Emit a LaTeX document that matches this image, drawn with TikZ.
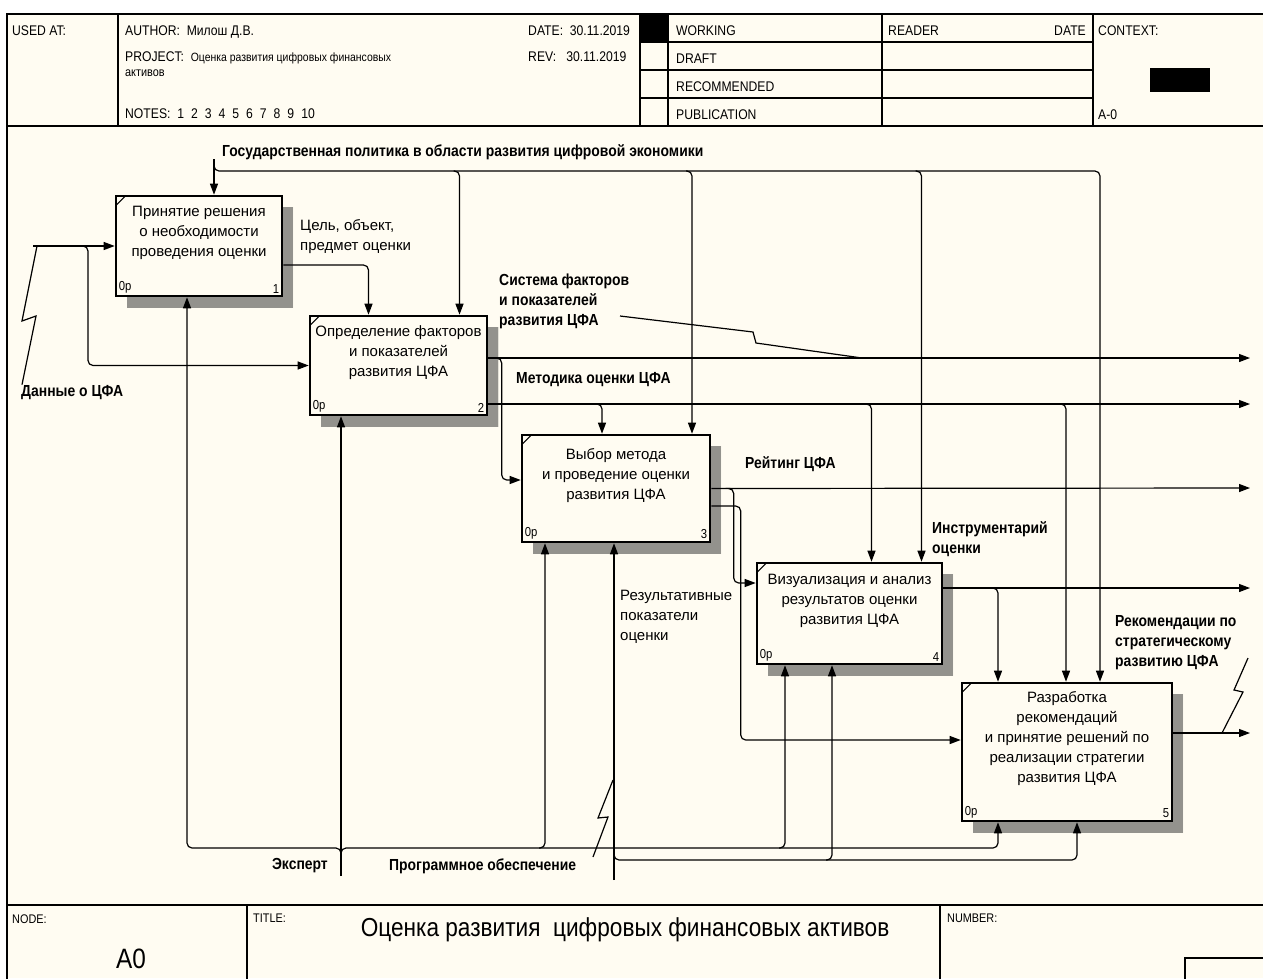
\documentclass[tikz,border=0pt]{standalone}
\usepackage{fontspec}
\setmainfont{Liberation Sans}
\newfontfamily\narrowfont[FakeStretch=0.87]{Liberation Sans}
\usepackage{tikz}
\usetikzlibrary{arrows.meta,positioning,calc,shadows,patterns.meta}
\usepackage{xcolor}

\definecolor{paper}{HTML}{FFFCF2}

\tikzset{
    >={Triangle[length=11pt,width=8pt]},
    fn/.style={draw, line width=2.6pt, fill=paper, inner sep=0pt,
        drop shadow={shadow xshift=11pt, shadow yshift=-11pt, opacity=1,
            pattern={Dots[distance=2pt, radius=0.85pt]}, pattern color=black!85}},
    fntext/.style={align=center, inner sep=0pt, font=\fontsize{15}{20}\selectfont},
    num/.style={inner sep=4pt, font=\narrowfont\fontsize{13}{13}\selectfont},
    lbl/.style={align=left, inner sep=0pt, font=\narrowfont\bfseries\fontsize{16}{20}\selectfont},
    txt/.style={align=left, inner sep=0pt, font=\fontsize{15}{20}\selectfont},
    hdr/.style={inner sep=0pt, anchor=base west, font=\narrowfont\fontsize{14}{16}\selectfont},
    small/.style={hdr, font=\narrowfont\fontsize{12.5}{14}\selectfont},
    arc/.style={line width=1.2pt, rounded corners=5pt},
    form/.style={line width=1.2pt},
}

\begin{document}
\begin{tikzpicture}[x=1pt, y=-1pt]
    \useasboundingbox (0,0) rectangle (1263,978);
    \clip (0,0) rectangle (1263,978);
    \fill[white] (0,0) rectangle (1263,978);
    \fill[paper] (7,14) rectangle (1263,978);

    % Form frame
    \draw[line width=2pt] (7,14) rectangle (1280,995);
    \draw[line width=2pt] (7,126) -- (1280,126);
    \draw[line width=2pt] (7,905) -- (1280,905);
    \foreach \x in {118,640,668,882,1093} \draw[form] (\x,14) -- (\x,126);
    \foreach \y in {42,70,98} \draw[form] (640,\y) -- (1093,\y);
    \draw[form] (247,905) -- (247,995);
    \draw[form] (940,905) -- (940,995);
    \draw[form] (1185,958) rectangle (1280,995);
    \fill (640,14) rectangle (668,42);
    \fill (1150,68) rectangle (1210,92);

    % Header
    \node[hdr] (usedat) at (12,35) {USED AT:};
    \node[hdr] (author) at (125,35) {AUTHOR:\ \ Милош Д.В.};
    \node[hdr] (project) at (125,61) {PROJECT:\ \ {\fontsize{12}{14}\selectfont Оценка развития цифровых финансовых}};
    \node[small] (project2) at (125,76) {активов};
    \node[hdr] (notes) at (125,118) {NOTES:\ \ 1\enspace2\enspace3\enspace4\enspace5\enspace6\enspace7\enspace8\enspace9\enspace10};
    \node[hdr] (date) at (528,35) {DATE:\ \ 30.11.2019};
    \node[hdr] (rev) at (528,61) {REV:\ \ \ 30.11.2019};
    \node[hdr] (working) at (676,35) {WORKING};
    \node[hdr] (draft) at (676,63) {DRAFT};
    \node[hdr] (recommended) at (676,91) {RECOMMENDED};
    \node[hdr] (publication) at (676,119) {PUBLICATION};
    \node[hdr] (reader) at (888,35) {READER};
    \node[hdr, anchor=base east] (rdate) at (1086,35) {DATE};
    \node[hdr] (context) at (1098,35) {CONTEXT:};
    \node[hdr] (ctxnode) at (1098,119) {A-0};

    % Footer
    \node[small] (nodelbl) at (12,923) {NODE:};
    \node[small] (titlelbl) at (253,922) {TITLE:};
    \node[small] (numlbl) at (947,922) {NUMBER:};
    \node[anchor=base, inner sep=0pt, font=\narrowfont\fontsize{28}{30}\selectfont] (nodeid) at (131,968) {A0};
    \node[anchor=base, inner sep=0pt, font=\narrowfont\fontsize{26}{30}\selectfont] (title) at (625,936) {Оценка развития\ \ цифровых финансовых активов};

    % Function boxes
    \node[fn, minimum width=166pt, minimum height=100pt] (b1) at (199,246) {};
    \node[fn, minimum width=177pt, minimum height=99pt] (b2) at (398.5,365.5) {};
    \node[fn, minimum width=188pt, minimum height=107pt] (b3) at (616,488.5) {};
    \node[fn, minimum width=185pt, minimum height=101pt] (b4) at (849.5,613.5) {};
    \node[fn, minimum width=210pt, minimum height=138pt] (b5) at (1067,752) {};

    \node[fntext, anchor=north] (b1t) at ($(b1.north)+(0,11)$) {Принятие решения\\о необходимости\\проведения оценки};
    \node[fntext, anchor=north] (b2t) at ($(b2.north)+(0,11)$) {Определение факторов\\и показателей\\развития ЦФА};
    \node[fntext, anchor=north] (b3t) at ($(b3.north)+(0,15)$) {Выбор метода\\и проведение оценки\\развития ЦФА};
    \node[fntext, anchor=north] (b4t) at ($(b4.north)+(0,12)$) {Визуализация и анализ\\результатов оценки\\развития ЦФА};
    \node[fntext, anchor=north] (b5t) at ($(b5.north)+(0,10)$) {Разработка\\рекомендаций\\и принятие решений по\\реализации стратегии\\развития ЦФА};

    \foreach \fb/\idx in {b1/1,b2/2,b3/3,b4/4,b5/5} {
        \node[num, anchor=south west] (\fb-cost) at (\fb.south west) {0р};
        \node[num, anchor=south east] (\fb-num) at (\fb.south east) {\idx};
        \draw[line width=1pt] ($(\fb.north west)+(2,10)$) -- ($(\fb.north west)+(10,2)$);
    }

    % Input
    \coordinate (din) at (33,246);
    \coordinate (dsplit) at (88,246);
    \draw[arc, ->] (din) -- (b1.west);
    \draw[arc, ->] ($(dsplit)+(-6,0)$) -- (dsplit) |- (b2.west);
    \node[lbl, anchor=west] (ldata) at (21,393) {Данные о ЦФА};
    \draw[form] ($(ldata.north west)+(1,-1)$) -- (36,316) -- (22,321) -- (37,246);

    % Control
    \coordinate (gp) at (214,159);
    \coordinate (gpbus) at (214,171);
    \node[lbl, anchor=west] (lgp) at (222,152) {Государственная политика в области развития цифровой экономики};
    \draw[arc, ->] (gp) -- ($(b1.north)+(15,0)$);
    \draw[arc, ->] (gp) |- ($(b5.north |- gpbus)+(33,0)$) -- ($(b5.north)+(33,0)$);
    \foreach \fb/\dx in {b2/61,b3/76,b4/72}
        \draw[arc, ->] ($(\fb.north |- gpbus)+(\dx-6,0)$) -- ($(\fb.north |- gpbus)+(\dx,0)$) -- ($(\fb.north)+(\dx,0)$);

    % Box 1 -> box 2
    \draw[arc, ->] ($(b1.east)+(0,19)$) -| ($(b2.north)+(-30,0)$);
    \node[txt, anchor=west] (lgoal) at (300,237) {Цель, объект,\\предмет оценки};

    % Outputs of box 2
    \coordinate (out1) at (1250,358);
    \coordinate (out2) at (1250,404);
    \draw[arc, ->] ($(b2.east)+(0,-7.5)$) -- (out1);
    \draw[arc, ->] ($(b2.east)+(9,-7.5)$) -| ($(b3.west)+(-19,-8.5)$) -- ($(b3.west)+(0,-8.5)$);
    \node[lbl, anchor=west] (lsys) at (499,301) {Система факторов\\и показателей\\развития ЦФА};
    \draw[form] (620,316) -- (753,332) -- (756,343) -- (862,358);

    \draw[arc, ->] ($(b2.east)+(0,38.5)$) -- (out2);
    \foreach \fb/\dx in {b3/-14,b4/22,b5/-1}
        \draw[arc, ->] ($(\fb.north |- out2)+(\dx-6,0)$) -- ($(\fb.north |- out2)+(\dx,0)$) -- ($(\fb.north)+(\dx,0)$);
    \node[lbl, anchor=west] (lmeth) at (516,380) {Методика оценки ЦФА};

    % Outputs of box 3
    \coordinate (out3) at (1250,488);
    \draw[arc, ->] (b3.east) -- (out3);
    \draw[arc, ->] ($(b3.east)+(19,0)$) -| ($(b4.west)+(-22,-30.5)$) -- ($(b4.west)+(0,-30.5)$);
    \draw[arc, ->] ($(b3.east)+(0,17.5)$) -| ($(b5.west)+(-220,-12)$) -- ($(b5.west)+(0,-12)$);
    \node[lbl, anchor=west] (lrate) at (745,464) {Рейтинг ЦФА};
    \node[txt, anchor=west] (lres) at (620,617) {Результативные\\показатели\\оценки};

    % Output of box 4
    \coordinate (out4) at (1250,588);
    \draw[arc, ->] ($(b4.east)+(0,-25.5)$) -- (out4);
    \draw[arc, ->] ($(b5.north |- out4)+(-75,0)$) -- ($(b5.north |- out4)+(-69,0)$) -- ($(b5.north)+(-69,0)$);
    \node[lbl, anchor=west] (ltool) at (932,539) {Инструментарий\\оценки};

    % Output of box 5
    \coordinate (out5) at (1250,733);
    \draw[arc, ->] ($(b5.east)+(0,-19)$) -- (out5);
    \node[lbl, anchor=west] (lrec) at (1115,643) {Рекомендации по\\стратегическому\\развитию ЦФА};
    \draw[form] (1248,658) -- (1234,690) -- (1243,692) -- (1222,733);

    % Mechanisms
    \coordinate (mexp) at (341,876);
    \coordinate (expbus) at (341,848);
    \draw[arc, ->] (mexp) -- ($(b2.south)+(-57.5,0)$);
    \draw[arc, ->] ($(expbus)+(0,6)$) -- (expbus) -| ($(b1.south)+(-12,0)$);
    \draw[arc, ->] ($(expbus)+(0,6)$) -- (expbus) -| ($(b5.south)+(-69,0)$);
    \foreach \fb/\dx in {b3/-71,b4/-64.5}
        \draw[arc, ->] ($(\fb.south |- expbus)+(\dx-6,0)$) -- ($(\fb.south |- expbus)+(\dx,0)$) -- ($(\fb.south)+(\dx,0)$);
    \node[lbl, anchor=east] (lexp) at (328,866) {Эксперт};

    \coordinate (msw) at (614,880);
    \coordinate (swbus) at (614,860);
    \draw[arc, ->] (msw) -- ($(b3.south)+(-2,0)$);
    \draw[arc, ->] ($(swbus)+(0,-6)$) -- (swbus) -| ($(b5.south)+(10,0)$);
    \draw[arc, ->] ($(b4.south |- swbus)+(-23.5,0)$) -- ($(b4.south |- swbus)+(-17.5,0)$) -- ($(b4.south)+(-17.5,0)$);
    \node[lbl, anchor=west] (lsw) at (389,866) {Программное обеспечение};
    \draw[form] (593,857) -- (608,817) -- (598,818) -- (613,780);
\end{tikzpicture}
\end{document}
